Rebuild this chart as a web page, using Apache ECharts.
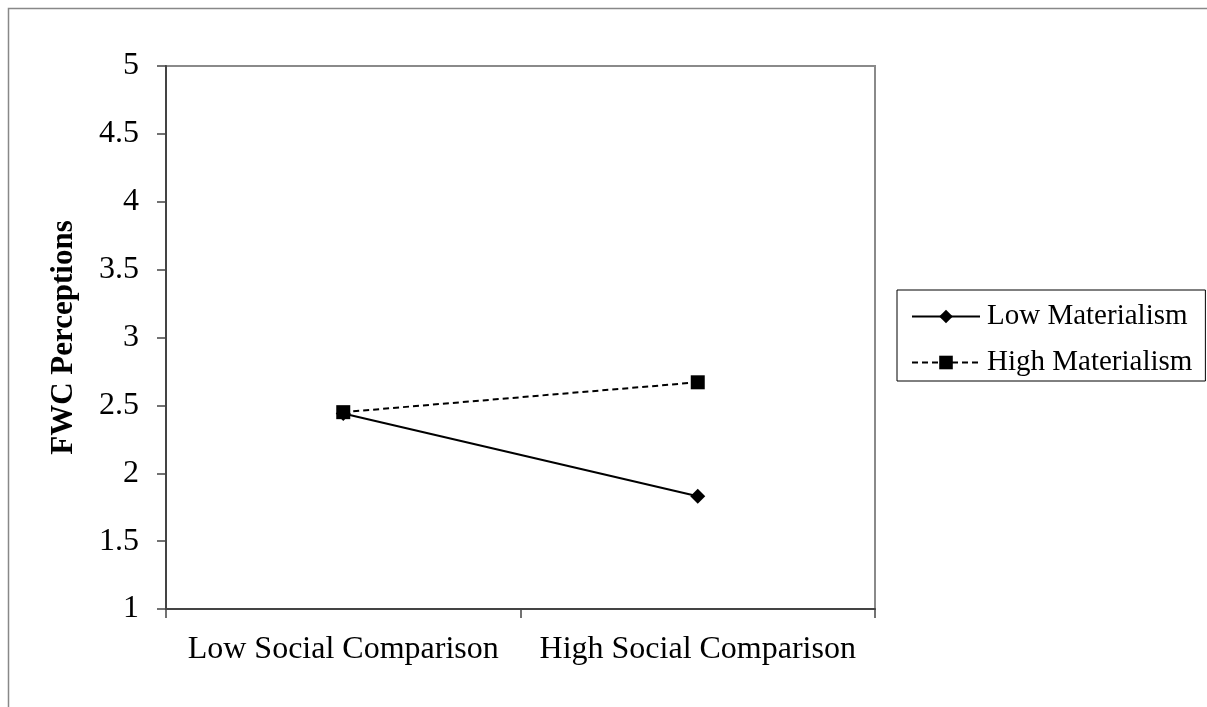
<!DOCTYPE html>
<html>
<head>
<meta charset="utf-8">
<script src="https://cdn.jsdelivr.net/npm/echarts@6/dist/echarts.min.js"></script>
<style>html,body{margin:0;padding:0;background:#fff;}#c{width:1207px;height:707px;}</style>
</head>
<body>
<div id="c"></div>
<script>
const categories = ['Low Social Comparison', 'High Social Comparison'];
const lowMaterialism = [2.44, 1.83];
const highMaterialism = [2.45, 2.67];
const yTitle = 'FWC Perceptions';
const seriesNames = ['Low Materialism', 'High Materialism'];

const font = '"Liberation Serif", "Times New Roman", serif';
const chart = echarts.init(document.getElementById('c'));
chart.setOption({
  backgroundColor: '#fff',
  animation: false,
  graphic: [{
    type: 'rect',
    shape: { x: 8.5, y: 8.5, width: 1300, height: 800 },
    style: { fill: 'none', stroke: '#888', lineWidth: 1.5 }, silent: true
  }],
  grid: {
    left: 166, top: 66, right: 332, bottom: 98,
    show: true, borderColor: '#8a8a8a', borderWidth: 2, backgroundColor: 'transparent'
  },
  legend: {
    orient: 'vertical', left: 897, top: 290,
    padding: [12, 13, 4, 14], itemGap: 17,
    itemWidth: 68, itemHeight: 17,
    borderColor: '#000', borderWidth: 1, backgroundColor: '#fff',
    textStyle: { fontFamily: font, fontSize: 29, color: '#000', padding: [0, 0, 0, 2] },
    data: seriesNames
  },
  xAxis: {
    type: 'category', data: categories, boundaryGap: true,
    axisLine: { lineStyle: { color: '#444', width: 2 } },
    axisTick: { show: true, inside: false, length: 9, interval: 0, alignWithLabel: false, lineStyle: { color: '#444', width: 1.5 } },
    axisLabel: { fontFamily: font, fontSize: 32, color: '#000', margin: 25, interval: 0, hideOverlap: false },
    splitLine: { show: false }
  },
  yAxis: {
    type: 'value', min: 1, max: 5, interval: 0.5,
    name: yTitle, nameLocation: 'middle', nameGap: 87,
    nameTextStyle: { fontFamily: font, fontSize: 31, fontWeight: 'bold', color: '#000' },
    axisLine: { show: true, lineStyle: { color: '#444', width: 2 } },
    axisTick: { show: true, inside: false, length: 9, lineStyle: { color: '#444', width: 1.5 } },
    axisLabel: { fontFamily: font, fontSize: 32, color: '#000', margin: 27 },
    splitLine: { show: false }
  },
  series: [{
    name: seriesNames[0], type: 'line', data: lowMaterialism,
    symbol: 'diamond', symbolSize: 15,
    lineStyle: { color: '#000', width: 2, type: 'solid' },
    itemStyle: { color: '#000' }
  }, {
    name: seriesNames[1], type: 'line', data: highMaterialism,
    symbol: 'rect', symbolSize: 14,
    lineStyle: { color: '#000', width: 2, type: [6, 4] },
    itemStyle: { color: '#000' }
  }]
});
</script>
</body>
</html>
